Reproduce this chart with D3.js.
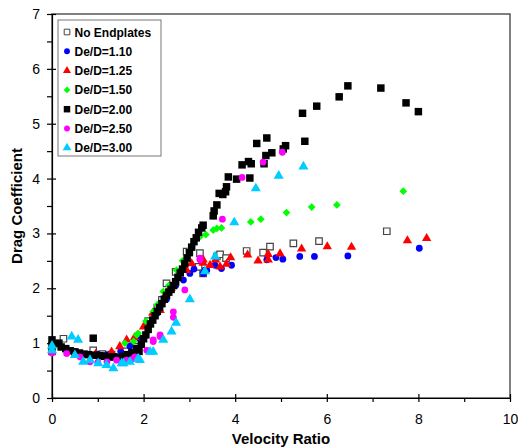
<!DOCTYPE html>
<html lang="en">
<head>
<meta charset="UTF-8">
<title>Drag Coefficient vs Velocity Ratio</title>
<script src="https://d3js.org/d3.v7.min.js"></script>
<style>
  body { margin: 0; background: #fff; }
  text { font-family: "Liberation Sans", Arial, sans-serif; }
</style>
</head>
<body>
<div id="chart"></div>
<script>
// series values, [velocity ratio, drag coefficient]
const noEndplates = [[0,0.85],[0.25,1.08],[0.9,0.87],[1.1,0.8],[1.3,0.79],[1.6,0.85],[1.85,1.05],[2.1,1.4],[2.3,1.65],[2.4,1.79],[2.5,2.09],[2.7,2.3],[2.94,2.67],[3.2,2.39],[3.23,2.64],[3.3,2.27],[3.6,2.58],[3.67,2.62],[3.8,2.55],[4.25,2.68],[4.61,2.65],[4.76,2.76],[5.27,2.82],[5.83,2.86],[7.31,3.04]];
const de110 = [[0,0.93],[0.5,0.85],[1.0,0.8],[1.2,0.79],[1.5,0.85],[1.7,0.95],[1.9,1.1],[2.1,1.33],[2.3,1.55],[2.5,1.8],[2.7,2.05],[2.87,2.15],[3.01,2.27],[3.1,2.35],[3.3,2.27],[3.34,2.33],[3.38,2.33],[3.56,2.42],[3.7,2.36],[3.92,2.42],[4.69,2.52],[4.89,2.56],[5.04,2.53],[5.41,2.58],[5.73,2.58],[6.46,2.59],[8.02,2.73]];
const de125 = [[0.05,0.97],[0.95,0.8],[1.3,0.84],[1.48,0.94],[1.63,1.06],[1.8,1.1],[2.0,1.3],[2.2,1.55],[2.36,1.6],[2.5,1.91],[2.6,2.0],[2.75,2.2],[2.94,2.33],[3.05,2.45],[3.3,2.46],[3.3,2.52],[3.45,2.42],[3.57,2.52],[3.67,2.39],[3.81,2.44],[3.9,2.56],[4.27,2.61],[4.5,2.5],[4.72,2.52],[4.72,2.62],[4.98,2.63],[5.45,2.72],[6.01,2.76],[6.54,2.75],[7.76,2.87],[8.18,2.91]];
const de150 = [[0.05,0.95],[1.59,1.0],[1.78,1.03],[1.85,1.15],[1.88,1.18],[2.05,1.4],[2.21,1.57],[2.3,1.7],[2.43,1.94],[2.55,2.05],[2.72,2.33],[2.85,2.5],[3.0,2.7],[3.1,2.85],[3.23,2.94],[3.36,2.98],[3.52,3.06],[3.6,3.09],[3.7,3.1],[4.34,3.21],[4.56,3.26],[5.12,3.38],[5.67,3.48],[6.22,3.52],[7.67,3.77]];
const de200 = [[0,1.06],[0,0.95],[0.15,1.0],[0.2,0.93],[0.3,0.9],[0.4,0.86],[0.5,0.84],[0.6,0.82],[0.7,0.8],[0.8,0.79],[0.9,1.09],[0.95,0.78],[1.05,0.77],[1.15,0.76],[1.25,0.75],[1.35,0.75],[1.45,0.74],[1.55,0.76],[1.65,0.79],[1.75,0.83],[1.85,0.9],[1.9,0.85],[1.95,0.98],[2.0,1.08],[2.05,1.15],[2.1,1.25],[2.15,1.35],[2.2,1.42],[2.25,1.5],[2.3,1.58],[2.35,1.65],[2.4,1.72],[2.45,1.8],[2.5,1.87],[2.55,1.93],[2.6,1.98],[2.65,2.05],[2.7,2.12],[2.75,2.2],[2.8,2.28],[2.85,2.35],[2.9,2.45],[2.95,2.55],[3.0,2.65],[3.05,2.75],[3.1,2.85],[3.15,2.92],[3.2,3.02],[3.27,3.1],[3.3,3.15],[3.52,3.32],[3.54,3.41],[3.6,3.52],[3.65,3.73],[3.73,3.71],[3.79,3.76],[3.81,3.85],[3.85,4.03],[4.03,3.99],[4.15,4.25],[4.29,4.31],[4.32,4.01],[4.35,4.27],[4.47,4.64],[4.63,4.27],[4.67,4.42],[4.69,4.74],[4.8,4.47],[5.05,4.54],[5.1,4.6],[5.47,5.19],[5.52,4.68],[5.78,5.32],[6.27,5.49],[6.46,5.69],[7.18,5.65],[7.73,5.38],[8.0,5.22]];
const de250 = [[0,0.82],[0.32,0.81],[0.61,0.75],[0.83,0.66],[1.0,0.65],[1.2,0.66],[1.41,0.69],[1.63,0.69],[1.78,0.72],[1.81,0.75],[2.07,0.87],[2.21,1.03],[2.21,1.06],[2.36,1.12],[2.36,1.15],[2.65,1.47],[2.65,1.57],[2.9,1.97],[3.23,2.52],[3.23,2.55],[3.72,3.26],[4.15,4.02],[4.61,4.3],[5.03,4.48]];
const de300 = [[0,0.87],[0,0.95],[0.43,1.12],[0.57,1.06],[0.5,0.78],[0.68,0.66],[0.83,0.69],[1.01,0.63],[1.19,0.6],[1.34,0.54],[1.52,0.63],[1.56,0.63],[1.7,0.66],[1.88,0.72],[1.92,0.69],[2.14,0.84],[2.21,0.84],[2.43,1.06],[2.61,1.21],[2.71,1.37],[3.01,1.8],[3.34,2.31],[3.56,2.58],[3.98,3.2],[4.45,3.82],[4.95,4.05],[5.49,4.22]];

const seriesNames = ["No Endplates", "De/D=1.10", "De/D=1.25", "De/D=1.50", "De/D=2.00", "De/D=2.50", "De/D=3.00"];
const seriesData = [noEndplates, de110, de125, de150, de200, de250, de300];
const xTicks = [0, 2, 4, 6, 8, 10];
const yTicks = [0, 1, 2, 3, 4, 5, 6, 7];

// marker style per series
const markers = [
    { shape: d3.symbolSquare, size: 42, fill: "#fff", stroke: "#444", rot: 0 },
    { shape: d3.symbolCircle, size: 36, fill: "#0000ff", stroke: "none", rot: 0 },
    { shape: d3.symbolTriangle, size: 38, fill: "#ff0000", stroke: "none", rot: 0 },
    { shape: d3.symbolSquare, size: 30, fill: "#00ff00", stroke: "none", rot: 45 },
    { shape: d3.symbolSquare, size: 56, fill: "#000", stroke: "none", rot: 0 },
    { shape: d3.symbolCircle, size: 36, fill: "#ff00ff", stroke: "none", rot: 0 },
    { shape: d3.symbolTriangle, size: 44, fill: "#00ccff", stroke: "none", rot: 0 }
];

const width = 518, height = 448;
const margin = { top: 14, right: 8, bottom: 50, left: 52 };

const svg = d3.select("#chart").append("svg")
    .attr("width", width)
    .attr("height", height);

const x = d3.scaleLinear().domain([0, 10]).range([margin.left, width - margin.right]);
const y = d3.scaleLinear().domain([0, 7]).range([height - margin.bottom, margin.top]);

// plot area border
svg.append("rect")
    .attr("x", x(0)).attr("y", y(7))
    .attr("width", x(10) - x(0)).attr("height", y(0) - y(7))
    .attr("fill", "none").attr("stroke", "#555").attr("stroke-width", 1.5);

// x axis: major ticks cross the line, minor ticks hang below
const xAxis = svg.append("g")
    .attr("transform", `translate(0,${y(0)})`)
    .call(d3.axisBottom(x).tickValues(xTicks).tickFormat(d3.format("d")).tickSize(4).tickSizeOuter(0).tickPadding(12));
xAxis.selectAll(".tick line").attr("y1", -4);
svg.append("g")
    .attr("transform", `translate(0,${y(0)})`)
    .call(d3.axisBottom(x).tickValues([1, 3, 5, 7, 9]).tickSize(4).tickFormat("").tickSizeOuter(0))
    .select(".domain").remove();

const yAxis = svg.append("g")
    .attr("transform", `translate(${x(0)},0)`)
    .call(d3.axisLeft(y).tickValues(yTicks).tickFormat(d3.format("d")).tickSize(5).tickSizeOuter(0).tickPadding(7));
yAxis.selectAll(".tick line").attr("x1", 4);
svg.append("g")
    .attr("transform", `translate(${x(0)},0)`)
    .call(d3.axisLeft(y).tickValues(d3.range(0.5, 7, 1)).tickSize(5).tickFormat("").tickSizeOuter(0))
    .select(".domain").remove();

svg.selectAll(".domain, .tick line").attr("stroke", "#000").attr("stroke-width", 1.2);
svg.selectAll(".tick text")
    .style("font-family", "'Liberation Sans', Arial, sans-serif")
    .style("font-size", "14px")
    .attr("fill", "#000");

// axis titles
svg.append("text")
    .attr("x", (x(0) + x(10)) / 2)
    .attr("y", 444)
    .attr("text-anchor", "middle")
    .style("font-size", "15px").style("font-weight", "bold")
    .text("Velocity Ratio");

svg.append("text")
    .attr("transform", `translate(22,${(y(0) + y(7)) / 2}) rotate(-90)`)
    .attr("text-anchor", "middle")
    .style("font-size", "15px").style("font-weight", "bold")
    .text("Drag Coefficient");

// points
seriesData.forEach((data, i) => {
    const m = markers[i];
    svg.append("g").selectAll("path")
        .data(data)
        .join("path")
        .attr("transform", d => `translate(${x(d[0])},${y(d[1])}) rotate(${m.rot})`)
        .attr("d", d3.symbol(m.shape, m.size))
        .attr("fill", m.fill)
        .attr("stroke", m.stroke)
        .attr("stroke-width", 1.2);
});

// legend
const legend = svg.append("g").attr("transform", "translate(58,20)");
legend.append("rect")
    .attr("width", 103).attr("height", 136)
    .attr("fill", "#fff").attr("stroke", "#777").attr("stroke-width", 1);

seriesNames.forEach((name, i) => {
    const m = markers[i];
    const cy = 12 + i * 19.3;
    legend.append("path")
        .attr("transform", `translate(9,${cy}) rotate(${m.rot})`)
        .attr("d", d3.symbol(m.shape, m.size * 0.75))
        .attr("fill", m.fill)
        .attr("stroke", m.stroke)
        .attr("stroke-width", 1);
    legend.append("text")
        .attr("x", 16.5)
        .attr("y", cy + 4.5)
        .style("font-size", "12px").style("font-weight", "bold")
        .text(name);
});
</script>
</body>
</html>
